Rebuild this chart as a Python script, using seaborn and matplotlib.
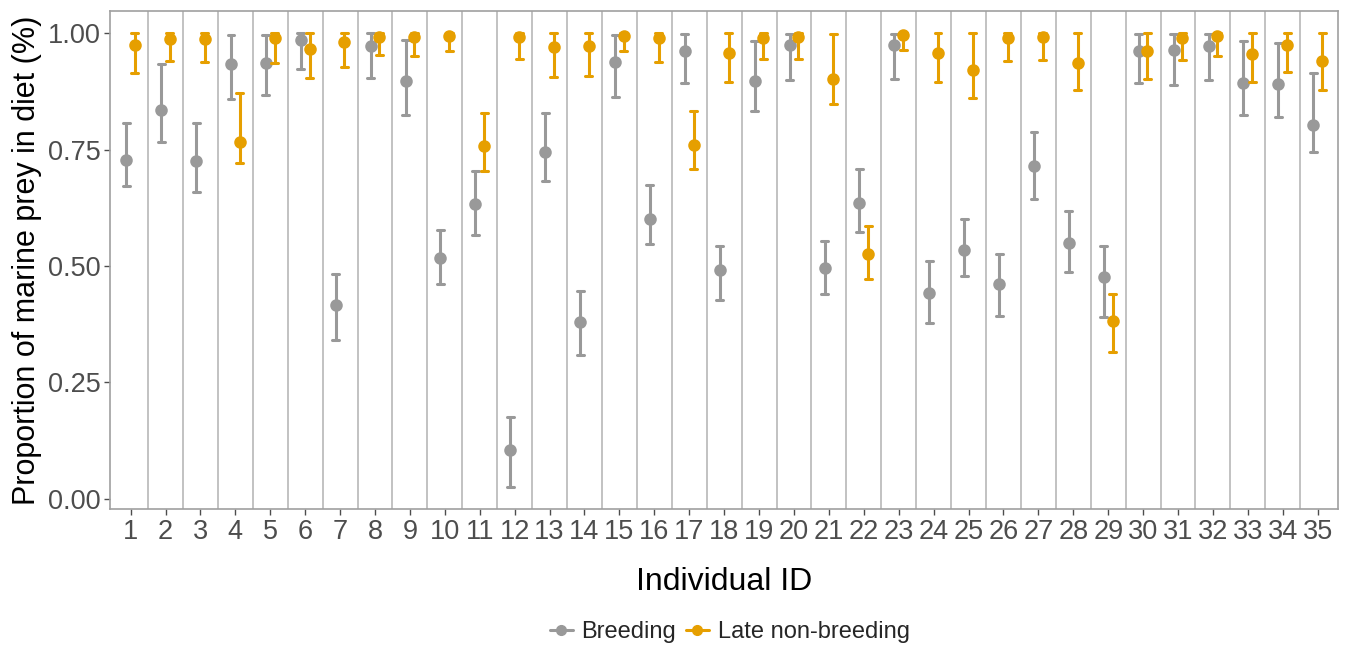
import numpy as np
import pandas as pd
import matplotlib
matplotlib.use("Agg")
import matplotlib.pyplot as plt
import seaborn as sns

# values: point estimate, lower and upper ends of the error bar
ids = [str(i) for i in range(1, 36)]

breed_mid = [0.728, 0.835, 0.725, 0.934, 0.937, 0.986, 0.416, 0.972, 0.898, 0.518,
             0.633, 0.104, 0.746, 0.379, 0.939, 0.602, 0.961, 0.491, 0.898, 0.974,
             0.496, 0.636, 0.974, 0.443, 0.535, 0.461, 0.715, 0.550, 0.476, 0.961,
             0.965, 0.972, 0.893, 0.892, 0.804]
breed_lo = [0.672, 0.767, 0.660, 0.859, 0.868, 0.924, 0.340, 0.903, 0.825, 0.461,
            0.566, 0.024, 0.682, 0.308, 0.863, 0.548, 0.893, 0.426, 0.832, 0.899,
            0.439, 0.572, 0.902, 0.378, 0.479, 0.392, 0.643, 0.488, 0.390, 0.893,
            0.888, 0.899, 0.825, 0.820, 0.746]
breed_hi = [0.808, 0.935, 0.808, 0.996, 0.996, 1.000, 0.483, 1.000, 0.986, 0.578,
            0.705, 0.176, 0.828, 0.446, 0.996, 0.675, 0.999, 0.544, 0.984, 0.999,
            0.553, 0.708, 0.999, 0.511, 0.601, 0.526, 0.788, 0.619, 0.544, 0.999,
            0.999, 0.999, 0.984, 0.980, 0.915]

late_mid = [0.975, 0.988, 0.988, 0.767, 0.989, 0.967, 0.982, 0.993, 0.992, 0.994,
            0.758, 0.991, 0.970, 0.972, 0.994, 0.989, 0.761, 0.958, 0.990, 0.991,
            0.902, 0.526, 0.996, 0.958, 0.922, 0.989, 0.991, 0.936, 0.382, 0.961,
            0.989, 0.994, 0.956, 0.975, 0.941]
late_lo = [0.915, 0.941, 0.939, 0.722, 0.936, 0.904, 0.927, 0.954, 0.951, 0.961,
           0.704, 0.945, 0.907, 0.909, 0.961, 0.939, 0.709, 0.896, 0.945, 0.944,
           0.849, 0.471, 0.965, 0.896, 0.862, 0.940, 0.942, 0.878, 0.315, 0.901,
           0.943, 0.952, 0.895, 0.916, 0.878]
late_hi = [1.000, 1.000, 1.000, 0.871, 1.000, 1.000, 1.000, 1.000, 1.000, 1.000,
           0.828, 1.000, 1.000, 1.000, 1.000, 1.000, 0.832, 1.000, 1.000, 1.000,
           0.998, 0.585, 1.000, 1.000, 1.000, 1.000, 1.000, 1.000, 0.440, 1.000,
           1.000, 1.000, 1.000, 1.000, 1.000]

seasons = ["Breeding", "Late non-breeding"]
colors = ["#999999", "#E69F00"]

# long table: three rows per id/season (lo, mid, hi) -> median gives the point, 100% interval gives the bar
rows = []
for season, lo, mid, hi in [(seasons[0], breed_lo, breed_mid, breed_hi),
                            (seasons[1], late_lo, late_mid, late_hi)]:
    for i, name in enumerate(ids):
        for v in (lo[i], mid[i], hi[i]):
            rows.append({"id": name, "season": season, "prop": v})
df = pd.DataFrame(rows)

sns.set_theme(style="white")
plt.rcParams['font.family'] = ['Liberation Sans', 'DejaVu Sans']

fig = plt.figure(figsize=(13.46, 6.45), dpi=100)
ax = fig.add_axes([0.082, 0.211, 0.912, 0.772])

# separators between individuals
for k in range(len(ids) - 1):
    ax.axvline(k + 0.5, color="#b8b8b8", lw=1.2, zorder=0)

sns.pointplot(data=df, x="id", y="prop", hue="season", order=ids, hue_order=seasons,
              palette=colors, estimator="median", errorbar=("pi", 100),
              dodge=0.25, linestyle="none", capsize=0.2, err_kws={"linewidth": 2.2},
              markers="o", markersize=7, ax=ax, legend=False)

ax.set_xlim(-0.58, len(ids) - 0.42)
ax.set_ylim(-0.022, 1.048)
ax.set_yticks([0, 0.25, 0.5, 0.75, 1.0])
ax.set_yticklabels(["0.00", "0.25", "0.50", "0.75", "1.00"])
ax.tick_params(axis="both", which="major", labelsize=19.5, colors="#4d4d4d",
               length=4, width=1, pad=3, bottom=True, left=True)
for lab in ax.get_xticklabels() + ax.get_yticklabels():
    lab.set_color("#4d4d4d")
for sp in ax.spines.values():
    sp.set_color("#a0a0a0")
    sp.set_linewidth(1.2)

ax.set_xlabel("Individual ID", fontsize=23, color="black", labelpad=16)
ax.set_ylabel("Proportion of marine prey in diet (%)", fontsize=22, color="black", labelpad=4)

handles = [plt.Line2D([], [], color=c, marker="o", markersize=7, lw=2.2) for c in colors]
fig.legend(handles, seasons, loc="center", bbox_to_anchor=(0.542, 0.02), ncol=2,
           frameon=False, fontsize=17, handlelength=1.0, handletextpad=0.35, columnspacing=0.4)

fig.savefig("out.png", dpi=100)
